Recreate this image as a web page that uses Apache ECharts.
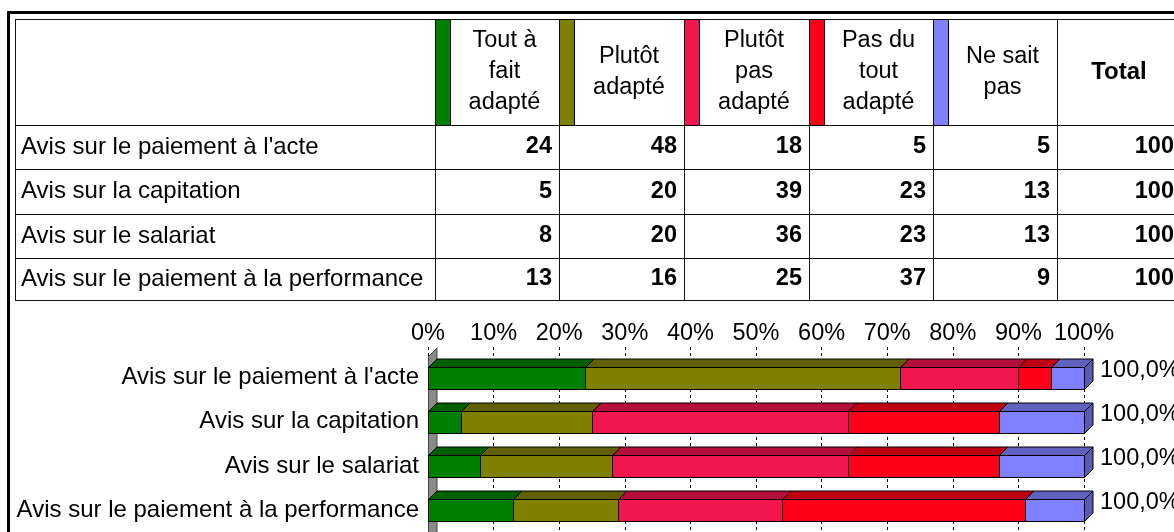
<!DOCTYPE html>
<html><head><meta charset="utf-8">
<script src="https://cdn.jsdelivr.net/npm/echarts@6/dist/echarts.min.js"></script>
<style>html,body{margin:0;padding:0;background:#fff}#c{width:1174px;height:532px}</style>
</head><body><div id="c"></div>
<script>
// ---- data ----
const categories = ["Avis sur le paiement à l'acte", "Avis sur la capitation", "Avis sur le salariat", "Avis sur le paiement à la performance"];
const seriesNames = ["Tout à fait adapté", "Plutôt adapté", "Plutôt pas adapté", "Pas du tout adapté", "Ne sait pas"];
const headerLabels = ["Tout à\nfait\nadapté", "Plutôt\nadapté", "Plutôt\npas\nadapté", "Pas du\ntout\nadapté", "Ne sait\npas"];
const totalHeader = "Total";
const toutAFaitAdapte = [24, 5, 8, 13];
const plutotAdapte = [48, 20, 20, 16];
const plutotPasAdapte = [18, 39, 36, 25];
const pasDuToutAdapte = [5, 23, 23, 37];
const neSaitPas = [5, 13, 13, 9];
const totals = [100, 100, 100, 100];
const totalLabels = ["100,0%", "100,0%", "100,0%", "100,0%"];
const xMin = 0, xMax = 100, xStep = 10;

// ---- styles / layout ----
const FONT = "'Liberation Sans', Arial, sans-serif";
const frontColors = ['#008000', '#808000', '#F0174F', '#FF0018', '#8080FF'];
const topColors = ['#006000', '#606000', '#B40F3B', '#BF0012', '#6060BF'];
const sideColor = '#5A5AB0';
const D = 8.5, BAR_H = 22;
const colEdges = [15, 435, 559, 684, 809, 933, 1057, 1181];
const rowEdges = [19, 125, 169, 214, 258, 300];
const STRIP = 15;

const valueSets = [toutAFaitAdapte, plutotAdapte, plutotPasAdapte, pasDuToutAdapte, neSaitPas];

// ---- table graphic ----
const g = [];
g.push({type:'rect', shape:{x:8.5, y:12.5, width:1400, height:800}, style:{fill:'none', stroke:'#000', lineWidth:3}});
rowEdges.forEach(y => g.push({type:'line', shape:{x1:15, y1:y+0.5, x2:1400, y2:y+0.5}, style:{stroke:'#111', lineWidth:1}}));
colEdges.forEach(x => g.push({type:'line', shape:{x1:x+0.5, y1:rowEdges[0], x2:x+0.5, y2:rowEdges[rowEdges.length-1]}, style:{stroke:'#111', lineWidth:1}}));
const hy = (rowEdges[0] + rowEdges[1]) / 2;
headerLabels.forEach((lab, k) => {
  const a = colEdges[k+1], b = colEdges[k+2];
  g.push({type:'rect', shape:{x:a+0.5, y:rowEdges[0]+0.5, width:STRIP, height:rowEdges[1]-rowEdges[0]}, style:{fill:frontColors[k], stroke:'#000', lineWidth:1}});
  g.push({type:'text', x:(a+STRIP+b)/2, y:hy, style:{text:lab, font:'23.5px ' + FONT, fill:'#000', textAlign:'center', textVerticalAlign:'middle', lineHeight:31}});
});
g.push({type:'text', x:(colEdges[6]+colEdges[7])/2, y:hy, style:{text:totalHeader, font:'bold 24px ' + FONT, fill:'#000', textAlign:'center', textVerticalAlign:'middle'}});
categories.forEach((c, i) => {
  const cy = (rowEdges[i+1] + rowEdges[i+2]) / 2;
  g.push({type:'text', x:21, y:cy, style:{text:c, font:'24px ' + FONT, fill:'#000', textAlign:'left', textVerticalAlign:'middle'}});
  const rowVals = valueSets.map(a => a[i]).concat([totals[i]]);
  rowVals.forEach((v, k) => {
    g.push({type:'text', x:colEdges[k+2]-7, y:cy, style:{text:String(v), font:'bold 23.5px ' + FONT, fill:'#000', textAlign:'right', textVerticalAlign:'middle'}});
  });
});

// ---- 3D stacked bars via custom series ----
function segRender(k) {
  return function (params, api) {
    const cat = api.value(2);
    const p0 = api.coord([api.value(0), cat]);
    const p1 = api.coord([api.value(1), cat]);
    const x0 = Math.round(p0[0]) + 0.5, x1 = Math.round(p1[0]) + 0.5;
    const yT = Math.round(p0[1] - BAR_H / 2) + 0.5, yB = yT + BAR_H;
    const ch = [
      {type:'rect', shape:{x:x0, y:yT, width:x1-x0, height:BAR_H}, style:{fill:frontColors[k], stroke:'#000', lineWidth:1}},
      {type:'polygon', shape:{points:[[x0,yT],[x1,yT],[x1+D,yT-D],[x0+D,yT-D]]}, style:{fill:topColors[k], stroke:'#000', lineWidth:1}}
    ];
    if (k === valueSets.length - 1) {
      ch.push({type:'polygon', shape:{points:[[x1,yT],[x1+D,yT-D],[x1+D,yB-D],[x1,yB]]}, style:{fill:sideColor, stroke:'#000', lineWidth:1}});
    }
    return {type:'group', children:ch};
  };
}
const segSeries = valueSets.map((vals, k) => ({
  type:'custom', name:seriesNames[k], xAxisIndex:0, yAxisIndex:0, z:10,
  data: vals.map((v, i) => {
    let s = 0; for (let j = 0; j < k; j++) s += valueSets[j][i];
    return [s, s + v, i];
  }),
  encode:{x:[0,1], y:2},
  renderItem: segRender(k)
}));

const wallSeries = {
  type:'custom', xAxisIndex:0, yAxisIndex:0, z:5, data:[[xMin, 0]], encode:{x:0, y:1},
  renderItem: function (params, api) {
    const cs = params.coordSys;
    const x0 = Math.round(api.coord([xMin, 0])[0]) + 0.5;
    const yt = Math.round(cs.y) + 0.5, yb = cs.y + cs.height + 30;
    return {type:'polygon', shape:{points:[[x0,yt],[x0+D,yt-D],[x0+D,yb-D],[x0,yb]]}, style:{fill:'#8a8a8a', stroke:'#444', lineWidth:1}};
  }
};

const totalSeries = {
  type:'custom', xAxisIndex:0, yAxisIndex:0, z:12,
  data: totals.map((t, i) => [t, i]), encode:{x:0, y:1},
  renderItem: function (params, api) {
    const p = api.coord([api.value(0), api.value(1)]);
    return {type:'text', x:p[0] + 16, y:p[1] - 7, style:{text:totalLabels[params.dataIndex], font:'23.5px ' + FONT, fill:'#000', textAlign:'left', textVerticalAlign:'middle'}};
  }
};

const chart = echarts.init(document.getElementById('c'), null, {renderer:'canvas'});
chart.setOption({
  animation:false,
  backgroundColor:'#fff',
  grid:[
    {left:428, width:656, top:355.67, height:178.67},
    {left:428, width:656, top:347, height:200}
  ],
  xAxis:[
    {type:'value', gridIndex:0, min:xMin, max:xMax, interval:xStep, show:false},
    {type:'value', gridIndex:1, min:xMin, max:xMax, interval:xStep, position:'top',
     axisLine:{show:false}, axisTick:{show:false},
     axisLabel:{formatter:'{value}%', fontSize:23.5, fontFamily:FONT, color:'#000', margin:1},
     splitLine:{show:true, lineStyle:{color:'#000', width:1, type:[3,3]}}}
  ],
  yAxis:[
    {type:'category', gridIndex:0, data:categories, inverse:true,
     axisLine:{show:false}, axisTick:{show:false}, splitLine:{show:false},
     axisLabel:{fontSize:24, fontFamily:FONT, color:'#000', margin:9}},
    {type:'value', gridIndex:1, min:0, max:1, show:false}
  ],
  graphic:{elements:g},
  series:[wallSeries].concat(segSeries, [totalSeries])
});
</script></body></html>
